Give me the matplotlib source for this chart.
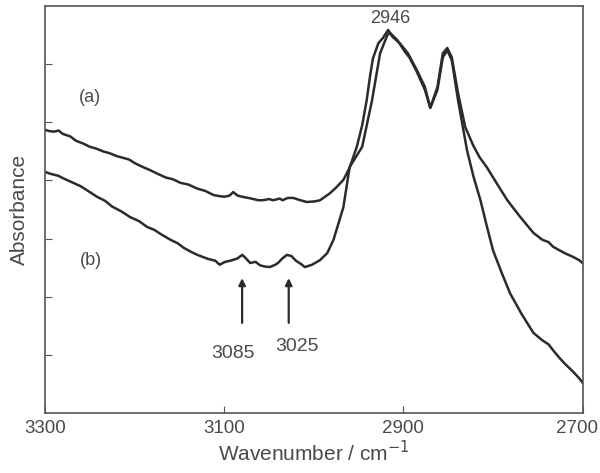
import matplotlib.pyplot as plt
from matplotlib.transforms import ScaledTranslation

plt.rcParams['font.family'] = ['Liberation Sans', 'DejaVu Sans']

# Spectrum (a)
wn_a = [3300, 3295, 3290, 3285, 3280, 3272, 3265, 3258, 3250, 3243, 3235, 3228,
        3220, 3213, 3206, 3200, 3192, 3183, 3175, 3165, 3157, 3149, 3140, 3130,
        3121, 3112, 3105, 3100, 3094, 3090, 3085, 3080, 3070, 3062, 3057, 3050,
        3045, 3038, 3035, 3029, 3023, 3015, 3008, 2999, 2993, 2982, 2975, 2967,
        2960, 2952, 2946, 2941, 2937, 2934, 2928, 2923, 2917, 2912, 2904, 2895,
        2885, 2876, 2870, 2862, 2856, 2851, 2846, 2839, 2831, 2822, 2815, 2807,
        2795, 2784, 2770, 2755, 2745, 2738, 2733, 2726, 2720, 2710, 2704, 2700]
ab_a = [4.87, 4.85, 4.84, 4.86, 4.80, 4.76, 4.68, 4.64, 4.58, 4.55, 4.50, 4.47,
        4.42, 4.39, 4.36, 4.30, 4.24, 4.18, 4.12, 4.05, 4.02, 3.96, 3.93, 3.86,
        3.82, 3.75, 3.73, 3.72, 3.74, 3.80, 3.74, 3.72, 3.69, 3.66, 3.66, 3.68,
        3.66, 3.69, 3.66, 3.70, 3.70, 3.66, 3.63, 3.64, 3.66, 3.78, 3.88, 4.01,
        4.22, 4.58, 4.95, 5.38, 5.82, 6.10, 6.36, 6.45, 6.59, 6.47, 6.36, 6.19,
        5.90, 5.61, 5.25, 5.61, 6.19, 6.28, 6.12, 5.50, 4.92, 4.60, 4.40, 4.23,
        3.93, 3.66, 3.38, 3.10, 2.98, 2.94, 2.86, 2.80, 2.75, 2.68, 2.63, 2.58]

# Spectrum (b)
wn_b = [3300, 3295, 3290, 3285, 3280, 3270, 3260, 3252, 3242, 3233, 3225, 3215,
        3205, 3195, 3186, 3178, 3170, 3160, 3152, 3145, 3138, 3130, 3118, 3110,
        3105, 3099, 3093, 3085, 3080, 3077, 3071, 3065, 3060, 3055, 3049, 3043,
        3040, 3035, 3030, 3025, 3020, 3014, 3010, 3002, 2993, 2985, 2978, 2967,
        2960, 2946, 2935, 2926, 2918, 2915, 2907, 2898, 2893, 2885, 2876, 2870,
        2862, 2856, 2851, 2846, 2839, 2829, 2822, 2814, 2807, 2800, 2790, 2781,
        2768, 2755, 2745, 2738, 2733, 2726, 2720, 2710, 2704, 2700]
ab_b = [4.15, 4.12, 4.10, 4.08, 4.04, 3.97, 3.90, 3.82, 3.72, 3.65, 3.55, 3.47,
        3.37, 3.30, 3.20, 3.15, 3.07, 2.98, 2.92, 2.84, 2.78, 2.72, 2.65, 2.62,
        2.55, 2.60, 2.62, 2.66, 2.72, 2.68, 2.58, 2.60, 2.54, 2.52, 2.51, 2.55,
        2.58, 2.66, 2.72, 2.70, 2.62, 2.56, 2.51, 2.55, 2.63, 2.75, 2.98, 3.54,
        4.23, 4.58, 5.38, 6.19, 6.50, 6.54, 6.42, 6.21, 6.11, 5.87, 5.56, 5.25,
        5.56, 6.12, 6.24, 6.07, 5.38, 4.52, 4.08, 3.66, 3.22, 2.80, 2.40, 2.06,
        1.70, 1.38, 1.25, 1.18, 1.08, 0.95, 0.85, 0.70, 0.60, 0.52]

arrow_wn = [3080, 3028]
arrow_labels = ['3085', '3025']
label_pos = [(3090, 1.02), (3019, 1.15)]

ink = '#2b2b2b'
txt = '#4a4a4a'

fig = plt.figure(figsize=(6.0, 4.73), dpi=100)
ax = fig.add_axes([0.075, 0.127, 0.896, 0.86])

ax.plot(wn_a, ab_a, color=ink, lw=1.8)
ax.plot(wn_b, ab_b, color=ink, lw=1.8)

ax.set_xlim(3300, 2700)
ax.set_ylim(0, 7)
ax.set_xticks([3300, 3100, 2900, 2700])
ax.set_yticks([1, 2, 3, 4, 5, 6])
ax.set_yticklabels([])
ax.tick_params(direction='in', length=5, color='#555555', labelsize=13.5,
               labelcolor=txt)
ax.tick_params(axis='x', pad=5)
for s in ax.spines.values():
    s.set_color('#555555')
    s.set_linewidth(1.2)

# keep the last tick label inside the figure
last = ax.get_xticklabels()[-1]
last.set_transform(last.get_transform() + ScaledTranslation(-4 / 72, 0, fig.dpi_scale_trans))

ax.set_xlabel('Wavenumber / cm$^{-1}$', fontsize=15, color=txt, labelpad=2)
ax.set_ylabel('Absorbance', fontsize=15, color=txt, labelpad=8)

ax.text(3250, 5.42, '(a)', fontsize=13, color=txt, ha='center', va='center')
ax.text(3249, 2.63, '(b)', fontsize=13, color=txt, ha='center', va='center')
ax.text(2915, 6.78, '2946', fontsize=13, color=txt, ha='center', va='center')

for w, lab, (lx, ly) in zip(arrow_wn, arrow_labels, label_pos):
    ax.annotate('', xy=(w, 2.32), xytext=(w, 1.55),
                arrowprops=dict(arrowstyle='-|>', color=ink, lw=1.6,
                                mutation_scale=10, shrinkA=0, shrinkB=0))
    ax.text(lx, ly, lab, fontsize=14, color=txt, ha='center', va='center')

fig.savefig('out.png', dpi=100)
